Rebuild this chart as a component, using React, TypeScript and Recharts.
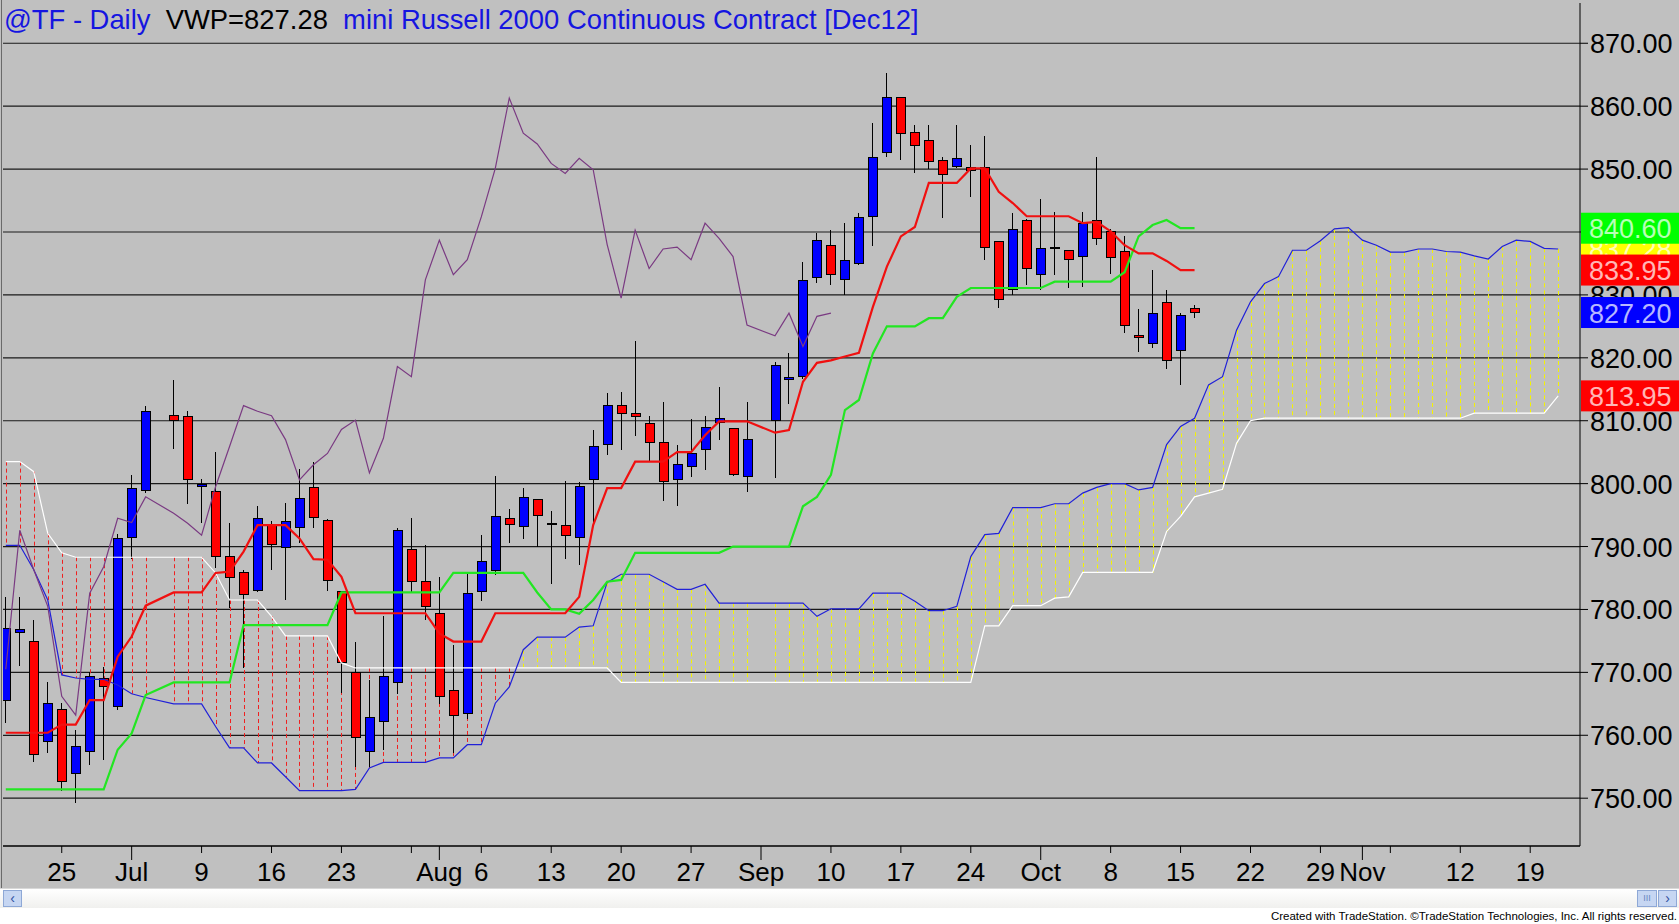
import React from 'react';
import { ComposedChart, Bar, Line, XAxis, YAxis, CartesianGrid } from 'recharts';

const FONT = '"Liberation Sans", Arial, Helvetica, sans-serif';

// One slot per weekday. Slot 1 = Tue Jun 19 2012, holidays (Jul 4, Sep 3) stay empty.
const opens = [
  765.6, 776.4, 774.9, 759.0,
  764.1, 754.0, 757.4, 769.0, 764.6,
  791.5, 798.9, null, 810.8, 810.7,
  799.5, 798.7, 788.4, 785.8, 783.0,
  793.4, 789.9, 793.0, 799.4, 794.1,
  782.9, 769.9, 757.4, 762.2, 768.4,
  789.5, 784.5, 779.4, 767.1, 763.4,
  782.9, 786.2, 794.5, 793.2, 797.4,
  793.6, 793.3, 791.5, 800.7, 806.2,
  812.4, 811.2, 809.5, 806.5, 800.6,
  802.7, 805.4, 809.7, 808.7, 801.1,
  null, 810.1, 816.6, 817.0, 832.7,
  837.9, 832.4, 835.0, 842.5, 852.6,
  861.4, 855.8, 854.5, 851.4, 850.4,
  850.3, 850.3, 838.5, 830.8, 841.9,
  833.2, 837.5, 837.0, 836.1, 841.8,
  840.1, 836.9, 823.5, 822.3, 828.8,
  821.1, 827.9,
];

const highs = [
  782.0, 782.0, 778.4, 768.5,
  765.1, 760.9, 770.0, 770.9, 792.0,
  801.4, 812.4, null, 816.5, 811.5,
  800.8, 805.0, 793.8, 786.3, 796.4,
  794.1, 796.9, 802.4, 803.5, 794.3,
  783.0, 774.9, 768.8, 779.0, 793.0,
  794.5, 790.2, 785.2, 774.4, 785.8,
  791.8, 801.2, 795.9, 799.3, 797.6,
  795.6, 800.4, 800.3, 808.6, 814.4,
  814.5, 822.7, 810.8, 813.0, 806.2,
  810.2, 810.7, 815.4, 808.8, 813.0,
  null, 819.4, 820.7, 835.3, 839.8,
  840.3, 841.4, 843.0, 857.4, 865.3,
  861.5, 857.0, 857.0, 852.0, 857.0,
  853.9, 855.2, 838.6, 843.0, 842.0,
  845.2, 843.1, 837.1, 843.1, 852.0,
  840.5, 839.4, 827.7, 834.0, 830.8,
  827.2, 828.4,
];

const lows = [
  761.9, 771.0, 755.7, 757.2,
  751.1, 749.2, 755.3, 756.1, 764.0,
  788.0, 798.5, null, 805.5, 796.8,
  793.7, 786.6, 780.2, 770.7, 782.8,
  786.3, 781.5, 790.5, 793.0, 782.9,
  766.7, 755.0, 755.0, 757.7, 766.6,
  782.6, 778.3, 765.0, 757.2, 762.6,
  781.3, 785.5, 790.5, 791.2, 790.0,
  784.1, 788.0, 787.1, 793.4, 804.6,
  805.4, 807.5, 803.5, 797.2, 796.4,
  801.0, 802.2, 807.0, 801.2, 798.7,
  null, 800.9, 812.7, 816.6, 831.9,
  831.6, 830.0, 834.8, 837.7, 852.0,
  851.5, 849.3, 850.0, 842.2, 850.2,
  845.5, 835.6, 827.9, 830.0, 831.6,
  830.8, 833.2, 831.1, 831.3, 838.0,
  833.4, 823.9, 821.0, 821.5, 818.3,
  815.7, 826.3,
];

const closes = [
  776.9, 776.8, 756.9, 765.0,
  752.7, 758.2, 769.4, 767.8, 791.3,
  799.3, 811.5, null, 810.0, 800.6,
  799.9, 788.4, 785.1, 782.3, 794.4,
  790.4, 794.0, 797.7, 794.6, 784.6,
  771.5, 759.7, 762.9, 769.3, 792.5,
  784.5, 780.5, 766.1, 763.2, 782.6,
  787.6, 794.7, 793.5, 797.8, 794.9,
  793.5, 791.7, 799.5, 805.9, 812.4,
  811.1, 810.7, 806.5, 800.3, 803.0,
  804.8, 808.9, 810.3, 801.5, 807.0,
  null, 818.7, 816.9, 832.3, 838.7,
  833.2, 835.4, 842.3, 851.9, 861.4,
  855.7, 853.8, 851.2, 849.2, 851.7,
  849.7, 837.6, 829.2, 840.4, 834.2,
  837.3, 837.3, 835.6, 841.4, 838.9,
  836.0, 825.2, 823.3, 827.1, 819.6,
  826.7, 827.2,
];

const tenkan = [
  760.4, 760.4, 760.4, 760.4,
  761.7, 761.7, 765.6, 765.6, 772.5,
  775.7, 780.6, null, 782.7, 782.7,
  782.7, 785.8, 786.0, 789.2, 793.4,
  793.4, 793.4, 791.3, 788.0, 787.9,
  785.2, 779.4, 779.4, 779.4, 779.4,
  779.4, 779.4, 776.2, 774.9, 774.9,
  774.9, 779.4, 779.4, 779.4, 779.4,
  779.4, 779.4, 782.0, 793.4, 799.3,
  799.3, 803.5, 803.5, 803.5, 805.0,
  805.0, 807.7, 809.9, 809.9, 809.9,
  null, 808.1, 808.5, 816.2, 819.2,
  819.6, 820.2, 820.8, 828.1, 834.5,
  839.3, 840.8, 847.8, 847.8, 847.8,
  850.1, 850.1, 846.4, 844.6, 842.5,
  842.5, 842.5, 842.5, 841.4, 841.6,
  840.1, 837.9, 836.6, 836.6, 835.4,
  833.95, 833.95,
];

const kijun = [
  751.4, 751.4, 751.4, 751.4,
  751.4, 751.4, 751.4, 751.4, 757.7,
  760.3, 766.4, null, 768.4, 768.4,
  768.4, 768.4, 768.4, 777.5, 777.5,
  777.5, 777.5, 777.5, 777.5, 777.5,
  782.7, 782.7, 782.7, 782.7, 782.7,
  782.7, 782.7, 782.7, 785.8, 785.8,
  785.8, 785.8, 785.8, 785.8, 782.7,
  780.0, 780.0, 779.3, 781.5, 784.4,
  784.7, 789.0, 789.0, 789.0, 789.0,
  789.0, 789.0, 789.0, 790.0, 790.0,
  null, 790.0, 790.0, 796.4, 797.9,
  801.4, 811.7, 813.3, 820.7, 825.0,
  825.0, 825.0, 826.3, 826.3, 829.7,
  831.1, 831.1, 831.1, 831.1, 831.1,
  831.1, 832.1, 832.1, 832.1, 832.1,
  832.1, 833.6, 839.3, 841.1, 841.9,
  840.6, 840.6,
];

const senkouA = [
  790.2, 790.2, 786.3, 781.5,
  769.6, 769.1, 768.9, 768.9, 768.0,
  766.6, 766.0, null, 765.0, 765.0,
  765.0, 761.4, 758.0, 758.0, 755.6,
  755.6, 753.4, 751.2, 751.2, 751.2,
  751.2, 751.4, 754.8, 755.7, 755.7,
  755.7, 755.7, 756.4, 756.4, 758.5,
  758.5, 765.1, 767.7, 773.6, 775.6,
  775.6, 775.6, 777.2, 777.4, 784.3,
  785.6, 785.6, 785.6, 784.4, 783.2,
  783.2, 784.0, 781.0, 781.0, 781.0,
  null, 781.0, 781.0, 781.0, 778.9,
  780.1, 780.1, 780.1, 782.6, 782.6,
  782.6, 781.3, 779.8, 779.8, 780.5,
  788.4, 791.9, 792.1, 796.2, 796.2,
  796.2, 796.8, 796.8, 798.5, 799.4,
  800.0, 800.0, 799.0, 799.4, 806.2,
  809.1, 810.4, 815.7, 817.0, 824.4,
  828.9, 831.8, 832.9, 837.1, 837.1,
  838.6, 840.5, 840.7, 838.7, 837.9,
  836.8, 836.8, 837.3, 837.3, 836.9,
  836.8, 836.2, 835.7, 837.7, 838.7,
  838.5, 837.4, 837.3,
];

const senkouB = [
  803.5, 803.5, 801.9, 792.1,
  789.0, 788.3, 788.3, 788.3, 788.3,
  788.3, 788.3, null, 788.3, 788.3,
  788.3, 785.8, 781.5, 781.5, 781.5,
  778.9, 775.8, 775.8, 775.8, 775.8,
  771.5, 770.7, 770.7, 770.7, 770.7,
  770.7, 770.7, 770.7, 770.7, 770.7,
  770.7, 770.7, 770.7, 770.7, 770.7,
  770.7, 770.7, 770.7, 770.7, 770.7,
  768.4, 768.4, 768.4, 768.4, 768.4,
  768.4, 768.4, 768.4, 768.4, 768.4,
  null, 768.4, 768.4, 768.4, 768.4,
  768.4, 768.4, 768.4, 768.4, 768.4,
  768.4, 768.4, 768.4, 768.4, 768.4,
  768.4, 777.4, 777.4, 780.6, 780.6,
  780.6, 781.8, 782.0, 785.9, 785.9,
  785.9, 785.9, 785.9, 785.9, 792.4,
  794.8, 797.9, 798.5, 799.1, 806.4,
  810.0, 810.4, 810.4, 810.4, 810.4,
  810.4, 810.4, 810.4, 810.4, 810.4,
  810.4, 810.4, 810.4, 810.4, 810.4,
  810.4, 811.2, 811.2, 811.2, 811.2,
  811.2, 811.2, 813.95,
];

const chikou = [
  770.5, 792.6, 786.3, 780.5,
  766.2, 763.2, 782.6, 786.8, 794.5,
  793.8, 797.9, null, 795.3, 793.7,
  791.8, 799.5, 805.9, 812.4, 811.5,
  810.8, 807.0, 800.6, 803.0, 804.8,
  808.6, 810.1, 801.7, 807.2, 818.6,
  817.0, 832.4, 838.7, 833.2, 835.6,
  842.4, 850.1, 861.3, 855.7, 854.0,
  850.9, 849.3, 851.7, 849.9, 838.0,
  829.5, 840.3, 834.2, 837.3, 837.6,
  835.6, 841.4, 839.0, 836.1, 825.2,
  null, 823.5, 827.1, 821.8, 826.6,
  827.1,
];

const priceTicks = [750, 760, 770, 780, 790, 800, 810, 820, 830, 840, 850, 860, 870];
const tickSlots = [5, 10, 15, 20, 25, 30, 32, 35, 40, 45, 50, 55, 60, 65, 70, 75, 80, 85, 90, 95, 98, 100, 105, 110];
const tickLabels = ['25', 'Jul', '9', '16', '23', '', 'Aug', '6', '13', '20', '27', 'Sep', '10', '17', '24', 'Oct', '8', '15', '22', '29', 'Nov', '', '12', '19'];
const monthSlots = [10, 32, 55, 75, 98];

// last values shown in the coloured boxes on the price scale (drawn in this order)
const tagValues = [837.28, 840.6, 833.95, 827.2, 813.95];
const TAG_FILLS = ['#ffff00', '#00ff00', '#ff0000', '#0000ff', '#ff0000'];

const rows = [];
for (let i = 0; i < senkouA.length; i++) {
  const a = senkouA[i];
  const b = senkouB[i];
  if (a == null || b == null) continue;
  const h = highs[i] ?? null;
  const l = lows[i] ?? null;
  rows.push({
    s: i + 1,
    o: opens[i] ?? null,
    h,
    l,
    c: closes[i] ?? null,
    candle: h != null && l != null ? [l, h] : null,
    cloud: [Math.min(a, b), Math.max(a, b)],
    bull: a >= b,
    tenkan: tenkan[i] ?? null,
    kijun: kijun[i] ?? null,
    spanA: a,
    spanB: b,
    chikou: chikou[i] ?? null,
  });
}

const Candle = (props: any) => {
  const { x, y, width, height, payload } = props;
  if (!payload || payload.h == null || y == null || isNaN(y)) return <g />;
  const { o, h, l, c } = payload;
  const top = Math.min(y, y + height);
  const bottom = Math.max(y, y + height);
  const py = (v: number) => top + ((h - v) / (h - l || 1)) * (bottom - top);
  const cx = Math.round(x + width / 2) + 0.5;
  const bTop = py(Math.max(o, c));
  const bBot = py(Math.min(o, c));
  const fill = c > o ? '#0000ff' : c < o ? '#ff0000' : '#000000';
  return (
    <g shapeRendering="crispEdges">
      <line x1={cx} x2={cx} y1={top} y2={bottom} stroke="#000" strokeWidth={1} />
      <rect x={cx - 4.5} y={bTop} width={9} height={Math.max(bBot - bTop, 1)} fill={fill} stroke="#000" strokeWidth={1} />
    </g>
  );
};

const CloudDash = (props: any) => {
  const { x, y, width, height, payload } = props;
  if (!payload || y == null || isNaN(y)) return <g />;
  const cx = Math.round(x + width / 2) + 0.5;
  const top = Math.min(y, y + height);
  const bottom = Math.max(y, y + height);
  return (
    <line
      x1={cx}
      x2={cx}
      y1={top}
      y2={bottom}
      stroke={payload.bull ? '#f4f400' : '#f02020'}
      strokeWidth={1}
      strokeDasharray="4 3"
    />
  );
};

const DateTick = (props: any) => {
  const { x, y, payload } = props;
  const idx = tickSlots.indexOf(payload.value);
  const label = idx >= 0 ? tickLabels[idx] : '';
  const tall = monthSlots.includes(payload.value);
  return (
    <g>
      <line x1={x} x2={x} y1={y} y2={y + (tall ? 14 : 7)} stroke="#000" strokeWidth={1} />
      {label ? (
        <text x={x} y={y + 35} textAnchor="middle" fontSize={26} fontFamily={FONT} fill="#000">
          {label}
        </text>
      ) : null}
    </g>
  );
};

const PriceTick = (props: any) => {
  const { x, y, payload } = props;
  const v = payload.value;
  const tagIdx = tagValues.indexOf(v);
  if (tagIdx >= 0) {
    return (
      <g>
        <rect x={x + 1} y={y - 15.5} width={1679 - x - 1} height={31} fill={TAG_FILLS[tagIdx]} />
        <text x={x + 9} y={y + 10} fontSize={27} fontFamily={FONT} fill="#ffffff" fillOpacity={0.72}>
          {v.toFixed(2)}
        </text>
      </g>
    );
  }
  return (
    <g>
      <line x1={x} x2={x + 8} y1={y} y2={y} stroke="#000" strokeWidth={1} />
      <text x={x + 10} y={y + 10} fontSize={27} fontFamily={FONT} fill="#000">
        {v.toFixed(2)}
      </text>
    </g>
  );
};

export default function App() {
  return (
    <div style={{ position: 'absolute', left: 0, top: 0, width: 1679, height: 924, background: '#ffffff', overflow: 'hidden' }}>
      <div style={{ position: 'absolute', left: 0, top: 0, width: 1679, height: 888, background: '#c0c0c0' }} />
      <div style={{ position: 'absolute', left: 1, top: 0, width: 1, height: 888, background: '#6a6a6a' }} />
      <div style={{ position: 'absolute', left: 0, top: 0 }}>
        <ComposedChart width={1679} height={888} data={rows} margin={{ top: 3, right: 0, bottom: 0, left: 3 }}>
          <CartesianGrid vertical={false} horizontalValues={priceTicks} stroke="#1a1a1a" strokeWidth={1.2} />
          <XAxis
            dataKey="s"
            type="number"
            domain={[0.8, 113.56]}
            allowDataOverflow
            ticks={tickSlots}
            interval={0}
            height={42}
            tickSize={0}
            tickMargin={0}
            tickLine={false}
            axisLine={{ stroke: '#000', strokeWidth: 1.5 }}
            tick={<DateTick />}
          />
          <XAxis xAxisId="cloud" dataKey="s" type="number" domain={[0.8, 113.56]} allowDataOverflow hide />
          <YAxis
            orientation="right"
            domain={[742.4, 876.4]}
            allowDataOverflow
            ticks={[...priceTicks, ...tagValues]}
            interval={0}
            width={99}
            tickSize={0}
            tickMargin={0}
            tickLine={false}
            axisLine={{ stroke: '#000' }}
            tick={<PriceTick />}
          />
          <Bar xAxisId="cloud" dataKey="cloud" barSize={2} shape={<CloudDash />} isAnimationActive={false} />
          <Line dataKey="spanB" stroke="#ffffff" strokeWidth={1.2} dot={false} isAnimationActive={false} connectNulls />
          <Line dataKey="spanA" stroke="#2020d8" strokeWidth={1.2} dot={false} isAnimationActive={false} connectNulls />
          <Line dataKey="chikou" stroke="#7a3a82" strokeWidth={1.2} dot={false} isAnimationActive={false} connectNulls />
          <Bar dataKey="candle" barSize={9} shape={<Candle />} isAnimationActive={false} />
          <Line dataKey="kijun" stroke="#22e622" strokeWidth={2.2} dot={false} isAnimationActive={false} connectNulls />
          <Line dataKey="tenkan" stroke="#f01010" strokeWidth={2.2} dot={false} isAnimationActive={false} connectNulls />
        </ComposedChart>
      </div>
      <div style={{ position: 'absolute', left: 4, top: 4, fontFamily: FONT, fontSize: 27.4, lineHeight: '32px', whiteSpace: 'pre', color: '#1515e0' }}>
        @TF - Daily  <span style={{ color: '#000' }}>VWP=827.28</span>  mini Russell 2000 Continuous Contract [Dec12]
      </div>
      <div style={{ position: 'absolute', left: 0, top: 888, width: 1679, height: 20, background: 'linear-gradient(#ffffff, #f0f0ee)', borderTop: '1px solid #d8d8d8', boxSizing: 'border-box' }} />
      <div style={{ position: 'absolute', left: 3, top: 890, width: 19, height: 17, background: '#c6d6f2', border: '1px solid #8ea8d6', boxSizing: 'border-box', color: '#3050a0', fontSize: 14, lineHeight: '15px', textAlign: 'center', fontFamily: FONT }}>‹</div>
      <div style={{ position: 'absolute', left: 1637, top: 890, width: 20, height: 17, background: '#c6d6f2', border: '1px solid #8ea8d6', boxSizing: 'border-box', color: '#6a86c0', fontSize: 9, lineHeight: '15px', textAlign: 'center', fontFamily: FONT }}>III</div>
      <div style={{ position: 'absolute', left: 1658, top: 890, width: 19, height: 17, background: '#c6d6f2', border: '1px solid #8ea8d6', boxSizing: 'border-box', color: '#3050a0', fontSize: 14, lineHeight: '15px', textAlign: 'center', fontFamily: FONT }}>›</div>
      <div style={{ position: 'absolute', right: 2, top: 909, height: 15, lineHeight: '15px', fontSize: 11.5, fontFamily: '"Liberation Sans Narrow", "Arial Narrow", "Liberation Sans", Arial', color: '#000', whiteSpace: 'nowrap' }}>
        Created with TradeStation. ©TradeStation Technologies, Inc. All rights reserved.
      </div>
    </div>
  );
}
